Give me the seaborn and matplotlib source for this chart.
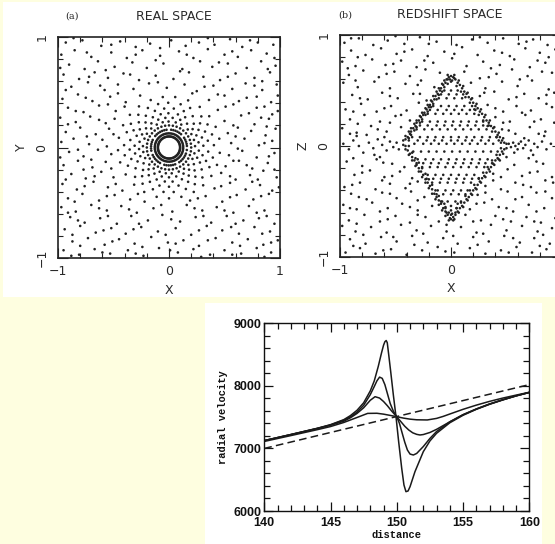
##############################################################################################

# Espacio real vs espacio redshift + curvas de velocidad radial

##############################################################################################

import numpy as np
import pandas as pd
import matplotlib

matplotlib.use("Agg")
import matplotlib.pyplot as plt
import seaborn as sns
from matplotlib.patches import Rectangle
from matplotlib.ticker import MultipleLocator

# Datos panel (a): puntos de fondo (x, y)
fondo_a = [
    (-0.93, 0.95), (-0.78, 0.97), (-0.61, 0.92), (-0.44, 0.96), (-0.30, 0.91), (-0.17, 0.94), (0.02, 0.97),
    (0.15, 0.92), (0.27, 0.95), (0.41, 0.93), (0.55, 0.98), (0.66, 0.91), (0.80, 0.95), (0.94, 0.93),
    (-0.97, 0.84), (-0.85, 0.88), (-0.70, 0.82), (-0.52, 0.86), (-0.38, 0.81), (-0.24, 0.88), (-0.08, 0.83),
    (0.09, 0.87), (0.22, 0.81), (0.35, 0.89), (0.50, 0.84), (0.62, 0.82), (0.74, 0.88), (0.88, 0.85),
    (-0.90, 0.75), (-0.76, 0.71), (-0.64, 0.78), (-0.49, 0.73), (-0.33, 0.77), (-0.20, 0.72), (-0.05, 0.76),
    (0.12, 0.71), (0.28, 0.78), (0.39, 0.73), (0.53, 0.76), (0.70, 0.72), (0.83, 0.78), (0.96, 0.74),
    (-0.95, 0.66), (-0.81, 0.62), (-0.67, 0.68), (-0.55, 0.63), (-0.41, 0.67), (-0.27, 0.61), (-0.12, 0.65),
    (0.04, 0.62), (0.18, 0.68), (0.31, 0.64), (0.46, 0.61), (0.60, 0.67), (0.77, 0.63), (0.91, 0.68),
    (-0.88, 0.55), (-0.73, 0.59), (-0.58, 0.52), (-0.46, 0.57), (-0.32, 0.53), (-0.18, 0.58), (-0.02, 0.54),
    (0.14, 0.57), (0.25, 0.51), (0.40, 0.56), (0.57, 0.53), (0.69, 0.58), (0.84, 0.52), (0.97, 0.57),
    (-0.96, 0.44), (-0.82, 0.48), (-0.69, 0.42), (-0.53, 0.46), (-0.39, 0.41), (-0.26, 0.47), (0.21, 0.49),
    (0.36, 0.43), (0.50, 0.47), (0.63, 0.42), (0.79, 0.46), (0.92, 0.41),
    (-0.91, 0.36), (-0.77, 0.32), (-0.63, 0.38), (-0.48, 0.33), (-0.40, 0.37), (0.44, 0.34), (0.58, 0.39),
    (0.72, 0.31), (0.86, 0.37), (0.98, 0.33),
    (-0.98, 0.27), (-0.84, 0.23), (-0.71, 0.28), (-0.57, 0.22), (-0.49, 0.26), (0.50, 0.24), (0.65, 0.29),
    (0.77, 0.21), (0.90, 0.26),
    (-0.93, 0.14), (-0.80, 0.18), (-0.66, 0.12), (-0.54, 0.17), (0.53, 0.13), (0.62, 0.18), (0.74, 0.15),
    (0.87, 0.11), (0.96, 0.17),
    (-0.97, 0.05), (-0.86, 0.08), (-0.72, 0.03), (-0.60, 0.07), (0.56, 0.04), (0.68, 0.08), (0.81, 0.02),
    (0.93, 0.06),
    (-0.90, -0.04), (-0.77, -0.08), (-0.64, -0.02), (-0.52, -0.06), (0.54, -0.07), (0.66, -0.03),
    (0.79, -0.09), (0.95, -0.05),
    (-0.95, -0.16), (-0.82, -0.12), (-0.69, -0.18), (-0.57, -0.13), (0.51, -0.17), (0.63, -0.12),
    (0.75, -0.19), (0.89, -0.14),
    (-0.88, -0.24), (-0.75, -0.28), (-0.61, -0.22), (-0.50, -0.27), (0.47, -0.23), (0.60, -0.29),
    (0.73, -0.25), (0.85, -0.21), (0.97, -0.27),
    (-0.96, -0.33), (-0.83, -0.38), (-0.68, -0.31), (-0.55, -0.36), (-0.42, -0.39), (0.41, -0.37),
    (0.55, -0.32), (0.69, -0.38), (0.82, -0.34), (0.93, -0.39),
    (-0.91, -0.46), (-0.78, -0.42), (-0.63, -0.48), (-0.49, -0.43), (-0.35, -0.47), (-0.22, -0.49),
    (0.19, -0.48), (0.33, -0.44), (0.48, -0.49), (0.61, -0.43), (0.76, -0.47), (0.90, -0.42),
    (-0.97, -0.54), (-0.84, -0.58), (-0.70, -0.52), (-0.56, -0.57), (-0.43, -0.53), (-0.29, -0.59),
    (-0.14, -0.55), (0.03, -0.58), (0.16, -0.52), (0.30, -0.57), (0.43, -0.54), (0.58, -0.59),
    (0.72, -0.53), (0.86, -0.57),
    (-0.89, -0.63), (-0.76, -0.68), (-0.62, -0.64), (-0.47, -0.69), (-0.34, -0.62), (-0.19, -0.66),
    (-0.06, -0.61), (0.10, -0.67), (0.24, -0.63), (0.38, -0.68), (0.52, -0.62), (0.67, -0.66),
    (0.81, -0.64), (0.95, -0.69),
    (-0.94, -0.74), (-0.80, -0.71), (-0.66, -0.77), (-0.52, -0.73), (-0.39, -0.78), (-0.25, -0.72),
    (-0.10, -0.76), (0.06, -0.73), (0.20, -0.79), (0.34, -0.71), (0.48, -0.75), (0.63, -0.78),
    (0.77, -0.72), (0.91, -0.76),
    (-0.87, -0.85), (-0.73, -0.82), (-0.58, -0.88), (-0.45, -0.83), (-0.31, -0.87), (-0.16, -0.81),
    (-0.01, -0.86), (0.13, -0.84), (0.27, -0.89), (0.42, -0.82), (0.57, -0.86), (0.71, -0.83),
    (0.85, -0.88), (0.98, -0.84),
    (-0.95, -0.93), (-0.81, -0.97), (-0.67, -0.92), (-0.53, -0.96), (-0.37, -0.93), (-0.23, -0.98),
    (-0.09, -0.91), (0.08, -0.95), (0.22, -0.92), (0.37, -0.97), (0.50, -0.93), (0.65, -0.96),
    (0.79, -0.91), (0.92, -0.95),
]
fondo_a_extra = [
    (-0.86, 0.99), (-0.52, 0.93), (-0.08, 0.90), (0.35, 0.99), (0.73, 0.97),
    (-0.74, 0.86), (-0.30, 0.84), (0.16, 0.84), (0.57, 0.87), (0.95, 0.81),
    (-0.98, 0.72), (-0.57, 0.70), (-0.12, 0.79), (0.45, 0.77), (0.89, 0.71),
    (-0.72, 0.64), (-0.35, 0.66), (0.10, 0.69), (0.53, 0.64), (0.84, 0.60),
    (-0.93, 0.52), (-0.62, 0.56), (-0.10, 0.59), (0.32, 0.55), (0.77, 0.56),
    (-0.75, 0.45), (-0.46, 0.49), (0.44, 0.48), (0.70, 0.45), (0.98, 0.47),
    (-0.84, 0.33), (-0.55, 0.39), (0.51, 0.37), (0.79, 0.36), (0.93, 0.30),
    (-0.91, 0.21), (-0.63, 0.25), (0.58, 0.20), (0.83, 0.27),
    (-0.74, 0.10), (-0.50, 0.12), (0.60, 0.10), (0.88, 0.19),
    (-0.82, -0.02), (-0.56, 0.01), (0.62, -0.01), (0.86, 0.04),
    (-0.98, -0.09), (-0.70, -0.11), (0.58, -0.12), (0.90, -0.08),
    (-0.77, -0.20), (-0.52, -0.19), (0.70, -0.16), (0.95, -0.20),
    (-0.93, -0.29), (-0.67, -0.26), (0.55, -0.26), (0.80, -0.29),
    (-0.76, -0.35), (-0.48, -0.33), (0.47, -0.35), (0.75, -0.31), (0.99, -0.36),
    (-0.85, -0.49), (-0.56, -0.44), (-0.28, -0.42), (0.26, -0.46), (0.55, -0.45), (0.83, -0.44),
    (-0.91, -0.59), (-0.63, -0.55), (-0.36, -0.56), (-0.07, -0.52), (0.23, -0.55), (0.50, -0.57), (0.79, -0.59),
    (-0.82, -0.66), (-0.55, -0.62), (-0.27, -0.69), (0.02, -0.65), (0.31, -0.62), (0.60, -0.69), (0.88, -0.62),
    (-0.87, -0.79), (-0.59, -0.75), (-0.32, -0.74), (-0.03, -0.79), (0.27, -0.75), (0.56, -0.72), (0.84, -0.78),
    (-0.80, -0.89), (-0.51, -0.85), (-0.24, -0.90), (0.06, -0.87), (0.35, -0.84), (0.64, -0.89), (0.92, -0.86),
    (-0.88, -0.98), (-0.60, -0.95), (-0.30, -0.96), (0.01, -0.93), (0.29, -0.99), (0.57, -0.97), (0.86, -0.99),
]

# Capas esfericas del panel (a): radio y angulos (grados) de cada capa
radio_anillo1 = 0.10
grados_anillo1 = [0, 5, 10, 15, 20, 25, 30, 35, 40, 45, 50, 55, 60, 65, 70, 75, 80, 85, 90, 95, 100, 105,
                  110, 115, 120, 125, 130, 135, 140, 145, 150, 155, 160, 165, 170, 175, 180, 185, 190, 195,
                  200, 205, 210, 215, 220, 225, 230, 235, 240, 245, 250, 255, 260, 265, 270, 275, 280, 285,
                  290, 295, 300, 305, 310, 315, 320, 325, 330, 335, 340, 345, 350, 355]
radio_anillo2 = 0.128
grados_anillo2 = [2, 8, 14, 20, 26, 32, 38, 44, 50, 56, 62, 68, 74, 80, 86, 92, 98, 104, 110, 116, 122, 128,
                  134, 140, 146, 152, 158, 164, 170, 176, 182, 188, 194, 200, 206, 212, 218, 224, 230, 236,
                  242, 248, 254, 260, 266, 272, 278, 284, 290, 296, 302, 308, 314, 320, 326, 332, 338, 344,
                  350, 356]
radio_anillo3 = 0.162
grados_anillo3 = [5, 12, 19, 26, 33, 48, 55, 62, 69, 76, 83, 98, 105, 112, 119, 126, 133, 140, 155, 162,
                  169, 176, 183, 190, 205, 212, 219, 226, 233, 240, 255, 262, 269, 276, 283, 290, 305, 312,
                  319, 326, 333, 340, 352]
radio_anillo4 = 0.20
grados_anillo4 = [0, 10, 20, 30, 40, 50, 60, 70, 80, 90, 100, 110, 120, 130, 140, 150, 160, 170, 180, 190,
                  200, 210, 220, 230, 240, 250, 260, 270, 280, 290, 300, 310, 320, 330, 340, 350]
radios_externos_a = [0.235, 0.31, 0.405]
radios_externos_b = [0.27, 0.355, 0.46]
grados_radiales_a = [3, 17, 31, 44, 62, 75, 91, 104, 118, 133, 148, 160, 177, 190, 204, 221, 234, 249, 263,
                     276, 292, 305, 318, 334, 347]
grados_radiales_b = [10, 24, 38, 53, 68, 83, 97, 111, 126, 140, 154, 169, 183, 197, 212, 227, 241, 256, 270,
                     284, 299, 312, 326, 340, 354]

# Datos panel (b): fondo, banda horizontal, borde del rombo e interior
fondo_b = [
    (-0.96, 0.93), (-0.83, 0.97), (-0.70, 0.91), (-0.57, 0.95), (-0.42, 0.92), (-0.28, 0.98), (-0.13, 0.94),
    (0.05, 0.91), (0.19, 0.96), (0.33, 0.93), (0.47, 0.97), (0.61, 0.92), (0.74, 0.96), (0.87, 0.91),
    (-0.90, 0.86), (-0.77, 0.82), (-0.63, 0.88), (-0.49, 0.83), (-0.35, 0.87), (-0.21, 0.81), (-0.06, 0.85),
    (0.10, 0.89), (0.24, 0.82), (0.39, 0.86), (0.53, 0.81), (0.67, 0.88), (0.80, 0.84), (0.94, 0.87),
    (-0.98, 0.76), (-0.86, 0.72), (-0.71, 0.78), (-0.59, 0.73), (-0.45, 0.77), (-0.31, 0.71), (-0.16, 0.75),
    (0.01, 0.79), (0.14, 0.72), (0.29, 0.76), (0.44, 0.73), (0.57, 0.78), (0.71, 0.71), (0.85, 0.75),
    (0.97, 0.79),
    (-0.92, 0.64), (-0.79, 0.68), (-0.65, 0.62), (-0.51, 0.67), (-0.37, 0.63), (-0.23, 0.69), (-0.10, 0.66),
    (0.12, 0.67), (0.26, 0.61), (0.41, 0.65), (0.55, 0.69), (0.69, 0.63), (0.82, 0.67), (0.95, 0.62),
    (-0.97, 0.57), (-0.84, 0.53), (-0.69, 0.58), (-0.55, 0.52), (-0.41, 0.56), (-0.27, 0.59), (-0.15, 0.53),
    (0.18, 0.57), (0.31, 0.52), (0.46, 0.58), (0.60, 0.54), (0.73, 0.59), (0.88, 0.51),
    (-0.89, 0.46), (-0.75, 0.42), (-0.62, 0.48), (-0.48, 0.43), (-0.34, 0.47), (-0.22, 0.41), (0.26, 0.45),
    (0.39, 0.49), (0.52, 0.42), (0.66, 0.47), (0.79, 0.43), (0.93, 0.48),
    (-0.95, 0.33), (-0.81, 0.38), (-0.67, 0.31), (-0.54, 0.36), (-0.40, 0.32), (-0.29, 0.39), (0.33, 0.37),
    (0.47, 0.31), (0.59, 0.36), (0.72, 0.32), (0.86, 0.38), (0.97, 0.34),
    (-0.91, 0.24), (-0.78, 0.28), (-0.64, 0.22), (-0.50, 0.27), (-0.37, 0.23), (0.40, 0.26), (0.53, 0.22),
    (0.67, 0.28), (0.81, 0.24), (0.93, 0.21),
    (-0.98, 0.16), (-0.85, 0.12), (-0.72, 0.18), (-0.58, 0.13), (-0.45, 0.17), (0.46, 0.15), (0.58, 0.11),
    (0.71, 0.17), (0.85, 0.13), (0.96, 0.18),
    (-0.94, -0.14), (-0.80, -0.18), (-0.67, -0.12), (-0.53, -0.16), (-0.42, -0.19), (0.44, -0.13),
    (0.57, -0.17), (0.70, -0.11), (0.83, -0.16), (0.97, -0.13),
    (-0.87, -0.26), (-0.73, -0.22), (-0.60, -0.28), (-0.46, -0.23), (-0.35, -0.29), (0.38, -0.25),
    (0.51, -0.21), (0.64, -0.27), (0.78, -0.23), (0.91, -0.28),
    (-0.96, -0.37), (-0.82, -0.33), (-0.68, -0.39), (-0.55, -0.34), (-0.41, -0.38), (-0.30, -0.32),
    (0.31, -0.36), (0.45, -0.39), (0.58, -0.33), (0.72, -0.37), (0.85, -0.31), (0.98, -0.36),
    (-0.90, -0.43), (-0.76, -0.48), (-0.62, -0.42), (-0.49, -0.47), (-0.36, -0.41), (-0.24, -0.46),
    (0.24, -0.44), (0.37, -0.48), (0.51, -0.41), (0.64, -0.46), (0.77, -0.42), (0.91, -0.47),
    (-0.97, -0.53), (-0.85, -0.57), (-0.71, -0.51), (-0.57, -0.56), (-0.44, -0.52), (-0.30, -0.58),
    (-0.17, -0.54), (0.17, -0.57), (0.30, -0.51), (0.43, -0.55), (0.56, -0.59), (0.70, -0.53),
    (0.84, -0.56), (0.96, -0.52),
    (-0.92, -0.67), (-0.78, -0.62), (-0.64, -0.68), (-0.50, -0.63), (-0.37, -0.69), (-0.23, -0.64),
    (-0.11, -0.68), (0.13, -0.62), (0.27, -0.67), (0.40, -0.63), (0.54, -0.68), (0.68, -0.64),
    (0.81, -0.69), (0.94, -0.65),
    (-0.98, -0.72), (-0.86, -0.77), (-0.72, -0.73), (-0.58, -0.78), (-0.45, -0.71), (-0.31, -0.76),
    (-0.18, -0.72), (-0.04, -0.77), (0.09, -0.73), (0.23, -0.78), (0.36, -0.71), (0.50, -0.76),
    (0.64, -0.72), (0.78, -0.77), (0.91, -0.74),
    (-0.91, -0.84), (-0.77, -0.88), (-0.63, -0.82), (-0.49, -0.86), (-0.35, -0.81), (-0.21, -0.87),
    (-0.07, -0.83), (0.06, -0.88), (0.20, -0.82), (0.34, -0.86), (0.48, -0.81), (0.62, -0.87),
    (0.75, -0.83), (0.89, -0.88),
    (-0.95, -0.96), (-0.82, -0.92), (-0.68, -0.97), (-0.54, -0.93), (-0.40, -0.98), (-0.26, -0.94),
    (-0.12, -0.91), (0.03, -0.96), (0.17, -0.92), (0.31, -0.97), (0.45, -0.94), (0.59, -0.91),
    (0.73, -0.96), (0.86, -0.93),
]
fondo_b_extra = [
    (-0.90, 0.97), (-0.50, 0.99), (-0.20, 0.92), (0.26, 0.98), (0.68, 0.94),
    (-0.84, 0.80), (-0.42, 0.85), (0.03, 0.83), (0.46, 0.84), (0.88, 0.80),
    (-0.93, 0.70), (-0.52, 0.74), (-0.24, 0.77), (0.36, 0.70), (0.78, 0.77),
    (-0.86, 0.59), (-0.58, 0.65), (-0.30, 0.55), (0.34, 0.62), (0.62, 0.60), (0.91, 0.66),
    (-0.82, 0.43), (-0.55, 0.45), (-0.28, 0.47), (0.30, 0.48), (0.59, 0.44), (0.86, 0.46),
    (-0.88, 0.31), (-0.60, 0.34), (-0.45, 0.28), (0.40, 0.34), (0.64, 0.30), (0.91, 0.35),
    (-0.84, 0.20), (-0.55, 0.21), (0.47, 0.21), (0.75, 0.22),
    (-0.91, 0.11), (-0.66, 0.15), (0.52, 0.14), (0.79, 0.11),
    (-0.88, -0.11), (-0.61, -0.15), (0.50, -0.10), (0.77, -0.14),
    (-0.80, -0.24), (-0.53, -0.27), (0.45, -0.28), (0.71, -0.24), (0.97, -0.25),
    (-0.89, -0.35), (-0.62, -0.31), (-0.37, -0.34), (0.38, -0.31), (0.65, -0.35), (0.92, -0.33),
    (-0.83, -0.46), (-0.55, -0.43), (-0.30, -0.49), (0.31, -0.42), (0.58, -0.48), (0.85, -0.41),
    (-0.91, -0.56), (-0.64, -0.59), (-0.37, -0.55), (0.23, -0.52), (0.50, -0.56), (0.77, -0.59),
    (-0.85, -0.70), (-0.57, -0.66), (-0.30, -0.62), (-0.04, -0.71), (0.20, -0.68), (0.47, -0.66), (0.75, -0.68),
    (-0.79, -0.80), (-0.52, -0.82), (-0.25, -0.79), (0.02, -0.81), (0.29, -0.79), (0.56, -0.83), (0.83, -0.80),
    (-0.88, -0.90), (-0.61, -0.94), (-0.33, -0.89), (-0.05, -0.95), (0.24, -0.89), (0.52, -0.96), (0.80, -0.90),
]

banda_b = [
    (-0.97, 0.02), (-0.92, -0.03), (-0.88, 0.05), (-0.83, 0.00), (-0.79, -0.06), (-0.74, 0.03), (-0.70, -0.02),
    (-0.66, 0.06), (-0.62, 0.01), (-0.58, -0.04), (-0.55, 0.04), (-0.52, -0.01), (-0.49, 0.03), (-0.47, -0.03),
    (-0.60, 0.08), (-0.69, -0.08), (-0.85, 0.09), (-0.76, 0.10), (-0.64, -0.10),
    (0.52, 0.02), (0.54, -0.01), (0.56, 0.03), (0.58, 0.00), (0.60, -0.03), (0.61, 0.02), (0.63, 0.04),
    (0.65, -0.02), (0.67, 0.01), (0.70, 0.05), (0.72, -0.04), (0.75, 0.02), (0.78, -0.01), (0.82, 0.04),
    (0.86, -0.03), (0.90, 0.02), (0.95, 0.06), (0.98, -0.02), (0.57, -0.06), (0.66, 0.07), (0.74, -0.08),
    (0.84, 0.09),
]

borde_b = [
    # arriba-izquierda
    (-0.02, 0.62), (-0.04, 0.60), (-0.05, 0.57), (-0.07, 0.55), (-0.09, 0.52), (-0.10, 0.50), (-0.12, 0.47),
    (-0.14, 0.45), (-0.15, 0.42), (-0.17, 0.40), (-0.19, 0.37), (-0.20, 0.35), (-0.22, 0.33), (-0.24, 0.30),
    (-0.25, 0.28), (-0.27, 0.26), (-0.29, 0.23), (-0.31, 0.21), (-0.32, 0.18), (-0.34, 0.16), (-0.36, 0.13),
    (-0.37, 0.11), (-0.39, 0.08), (-0.41, 0.06),
    (-0.01, 0.60), (-0.03, 0.56), (-0.06, 0.53), (-0.08, 0.49), (-0.11, 0.46), (-0.13, 0.42), (-0.16, 0.38),
    (-0.18, 0.35), (-0.21, 0.31), (-0.23, 0.28), (-0.26, 0.24), (-0.28, 0.21), (-0.31, 0.17), (-0.33, 0.14),
    (-0.36, 0.10), (-0.38, 0.07),
    (-0.03, 0.64), (-0.06, 0.59), (-0.08, 0.56), (-0.11, 0.52), (-0.13, 0.49), (-0.16, 0.45), (-0.18, 0.41),
    (-0.21, 0.37), (-0.23, 0.34), (-0.26, 0.30), (-0.28, 0.27), (-0.31, 0.23), (-0.33, 0.20), (-0.36, 0.16),
    (-0.38, 0.13), (-0.41, 0.09), (-0.43, 0.05),
    # abajo-izquierda
    (-0.41, 0.00), (-0.39, -0.04), (-0.37, -0.07), (-0.35, -0.10), (-0.33, -0.13), (-0.31, -0.17),
    (-0.29, -0.20), (-0.27, -0.23), (-0.25, -0.26), (-0.23, -0.30), (-0.21, -0.33), (-0.19, -0.36),
    (-0.17, -0.39), (-0.15, -0.43), (-0.13, -0.46), (-0.11, -0.49), (-0.09, -0.52), (-0.07, -0.56),
    (-0.05, -0.59), (-0.03, -0.62), (-0.01, -0.65),
    (-0.38, 0.00), (-0.35, -0.06), (-0.32, -0.11), (-0.29, -0.15), (-0.26, -0.20), (-0.23, -0.25),
    (-0.20, -0.30), (-0.17, -0.35), (-0.14, -0.40), (-0.11, -0.45), (-0.08, -0.50), (-0.05, -0.55),
    (-0.02, -0.60),
    (-0.43, 0.01), (-0.41, -0.03), (-0.38, -0.08), (-0.35, -0.13), (-0.32, -0.18), (-0.29, -0.23),
    (-0.26, -0.28), (-0.23, -0.33), (-0.20, -0.38), (-0.17, -0.43), (-0.14, -0.48), (-0.11, -0.53),
    (-0.08, -0.58), (-0.05, -0.63), (-0.02, -0.67),
    # arriba-derecha
    (0.02, 0.62), (0.04, 0.60), (0.06, 0.57), (0.08, 0.55), (0.10, 0.52), (0.12, 0.49), (0.14, 0.47),
    (0.16, 0.44), (0.18, 0.42), (0.20, 0.39), (0.22, 0.36), (0.24, 0.34), (0.26, 0.31), (0.28, 0.29),
    (0.30, 0.26), (0.32, 0.23), (0.34, 0.21), (0.36, 0.18), (0.38, 0.16), (0.40, 0.13), (0.42, 0.10),
    (0.44, 0.08), (0.46, 0.05), (0.48, 0.03),
    (0.01, 0.59), (0.05, 0.54), (0.09, 0.49), (0.13, 0.44), (0.17, 0.39), (0.21, 0.33), (0.25, 0.28),
    (0.29, 0.23), (0.33, 0.18), (0.37, 0.13), (0.41, 0.08), (0.45, 0.03),
    (0.03, 0.64), (0.07, 0.59), (0.11, 0.54), (0.15, 0.48), (0.19, 0.43), (0.23, 0.38), (0.27, 0.33),
    (0.31, 0.28), (0.35, 0.23), (0.39, 0.17), (0.43, 0.12), (0.47, 0.07), (0.50, 0.02),
    # abajo-derecha
    (0.48, -0.03), (0.46, -0.05), (0.44, -0.08), (0.42, -0.11), (0.40, -0.13), (0.38, -0.16), (0.36, -0.19),
    (0.34, -0.21), (0.32, -0.24), (0.30, -0.27), (0.28, -0.29), (0.26, -0.32), (0.24, -0.35), (0.22, -0.38),
    (0.20, -0.40), (0.18, -0.43), (0.16, -0.46), (0.14, -0.48), (0.12, -0.51), (0.10, -0.54), (0.08, -0.56),
    (0.06, -0.59), (0.04, -0.62), (0.02, -0.64),
    (0.45, -0.02), (0.41, -0.08), (0.37, -0.13), (0.33, -0.19), (0.29, -0.24), (0.25, -0.29), (0.21, -0.35),
    (0.17, -0.40), (0.13, -0.45), (0.09, -0.51), (0.05, -0.56), (0.01, -0.61),
    (0.50, -0.02), (0.47, -0.07), (0.43, -0.12), (0.39, -0.17), (0.35, -0.23), (0.31, -0.28), (0.27, -0.33),
    (0.23, -0.39), (0.19, -0.44), (0.15, -0.49), (0.11, -0.55), (0.07, -0.60), (0.03, -0.66),
    # vertices (arcos en U)
    (-0.04, -0.60), (0.00, -0.62), (0.04, -0.60), (-0.05, -0.56), (0.00, -0.58), (0.05, -0.56),
    (-0.06, -0.52), (0.00, -0.54), (0.06, -0.52), (0.00, -0.66), (0.02, -0.67),
    (-0.03, 0.60), (0.00, 0.63), (0.03, 0.61), (0.00, 0.58),
]

interior_z = [0.50, 0.465, 0.43, 0.36, 0.325, 0.29, 0.22, 0.185, 0.15, 0.08, 0.05, 0.02,
              -0.05, -0.12, -0.155, -0.19, -0.26, -0.295, -0.33, -0.40, -0.435, -0.50]
interior_x = [
    [-0.06, 0.00, 0.06],
    [-0.09, -0.02, 0.05, 0.11],
    [-0.11, -0.04, 0.03, 0.10],
    [-0.16, -0.09, -0.02, 0.05, 0.12, 0.19],
    [-0.19, -0.12, -0.04, 0.03, 0.10, 0.17, 0.22],
    [-0.21, -0.14, -0.07, 0.00, 0.07, 0.14, 0.21],
    [-0.26, -0.19, -0.12, -0.05, 0.02, 0.09, 0.16, 0.23, 0.29],
    [-0.28, -0.21, -0.13, -0.06, 0.01, 0.08, 0.15, 0.22, 0.29, 0.34],
    [-0.31, -0.24, -0.17, -0.10, -0.03, 0.04, 0.11, 0.18, 0.25, 0.32],
    [-0.35, -0.28, -0.21, -0.14, -0.07, 0.00, 0.07, 0.14, 0.21, 0.28, 0.35, 0.41],
    [-0.38, -0.30, -0.22, -0.15, -0.08, 0.00, 0.06, 0.13, 0.19, 0.27, 0.34, 0.43],
    [-0.33, -0.25, -0.18, -0.11, -0.04, 0.03, 0.10, 0.17, 0.24, 0.31, 0.38],
    [-0.34, -0.27, -0.20, -0.13, -0.06, 0.01, 0.08, 0.15, 0.22, 0.29, 0.36, 0.42],
    [-0.30, -0.23, -0.16, -0.09, -0.02, 0.05, 0.12, 0.19, 0.26, 0.33],
    [-0.31, -0.25, -0.18, -0.11, -0.03, 0.04, 0.11, 0.18, 0.25, 0.31, 0.37],
    [-0.26, -0.19, -0.12, -0.05, 0.02, 0.09, 0.16, 0.23, 0.30],
    [-0.21, -0.14, -0.07, 0.00, 0.07, 0.14, 0.21],
    [-0.22, -0.16, -0.09, -0.02, 0.05, 0.12, 0.19, 0.25],
    [-0.17, -0.10, -0.03, 0.04, 0.11, 0.18],
    [-0.12, -0.05, 0.02, 0.09, 0.15],
    [-0.13, -0.07, 0.00, 0.07, 0.13],
    [-0.09, -0.03, 0.04, 0.09],
]

# Curvas de velocidad radial (distancia, velocidad)
dist_1 = [140, 142, 144, 145, 146, 146.5, 147, 147.5, 148, 148.3, 148.6, 148.85, 149.0, 149.1, 149.2, 149.28,
          149.4, 149.54, 149.74, 149.94, 150.14, 150.37, 150.54, 150.69, 150.85, 151.0, 151.37, 152.0, 152.5,
          153.0, 154.0, 155.0, 156.0, 157.0, 158.0, 159.0, 160.0]
vel_1 = [7125, 7222, 7322, 7380, 7460, 7525, 7610, 7730, 7920, 8080, 8310, 8530, 8650, 8705, 8725, 8690,
         8480, 8227, 7854, 7507, 7108, 6683, 6416, 6309, 6320, 6389, 6628, 6948, 7120, 7242, 7410, 7530,
         7625, 7705, 7775, 7840, 7895]
dist_2 = [140, 142, 144, 145, 146, 146.5, 147, 147.5, 148, 148.3, 148.5, 148.7, 148.9, 149.1, 149.3, 149.5,
          149.75, 150.0, 150.2, 150.4, 150.6, 150.8, 151.0, 151.25, 151.5, 152.0, 152.5, 153.0, 154.0, 155.0,
          156.0, 157.0, 158.0, 159.0, 160.0]
vel_2 = [7125, 7222, 7320, 7376, 7452, 7505, 7580, 7690, 7860, 7990, 8080, 8140, 8120, 8020, 7870, 7720,
         7590, 7505, 7400, 7250, 7100, 6975, 6910, 6895, 6920, 7030, 7160, 7270, 7425, 7540, 7630, 7710,
         7778, 7840, 7895]
dist_3 = [140, 142, 144, 145, 146, 146.5, 147, 147.5, 148, 148.36, 148.7, 149.0, 149.3, 149.6, 150.0, 150.3,
          150.6, 150.9, 151.2, 151.5, 151.75, 152.0, 152.5, 153.0, 154.0, 155.0, 156.0, 157.0, 158.0, 159.0,
          160.0]
vel_3 = [7125, 7220, 7318, 7370, 7435, 7490, 7560, 7650, 7770, 7827, 7805, 7750, 7680, 7600, 7505, 7430,
         7355, 7295, 7250, 7225, 7215, 7222, 7255, 7305, 7425, 7538, 7630, 7710, 7778, 7840, 7895]
dist_4 = [140, 142, 144, 145, 146, 147, 147.8, 148.5, 149.0, 149.5, 150.0, 150.5, 151.0, 151.5, 152.3, 153.0,
          153.5, 154.0, 155.0, 156.0, 157.0, 158.0, 159.0, 160.0]
vel_4 = [7112, 7205, 7300, 7350, 7415, 7495, 7560, 7562, 7548, 7528, 7507, 7485, 7468, 7458, 7455, 7480,
         7512, 7550, 7625, 7692, 7752, 7805, 7852, 7898]
# Flujo de Hubble (linea discontinua)
dist_hubble = [140, 160]
vel_hubble = [7000, 8020]

##############################################################################################

# Construccion de tablas
# -----------------------------------------------------------


def capa(radio, grados):
    ang = np.deg2rad(grados)
    return list(zip(radio * np.cos(ang), radio * np.sin(ang)))


puntos_a = list(fondo_a) + list(fondo_a_extra)
puntos_a += capa(radio_anillo1, grados_anillo1)
puntos_a += capa(radio_anillo2, grados_anillo2)
puntos_a += capa(radio_anillo3, grados_anillo3)
puntos_a += capa(radio_anillo4, grados_anillo4)
for r in radios_externos_a:
    puntos_a += capa(r, grados_radiales_a)
for r in radios_externos_b:
    puntos_a += capa(r, grados_radiales_b)
df_a = pd.DataFrame(puntos_a, columns=["x", "y"])

puntos_b = list(fondo_b) + list(fondo_b_extra) + list(banda_b) + list(borde_b)
for z, fila in zip(interior_z, interior_x):
    puntos_b += [(x, z) for x in fila]
df_b = pd.DataFrame(puntos_b, columns=["x", "z"])

##############################################################################################

# Figura
# -----------------------------------------------------------

sns.set_style("ticks")
plt.rcParams["font.family"] = ["DejaVu Sans"]

fig = plt.figure(figsize=(5.55, 5.44), dpi=100)
fig.patch.set_facecolor("#fefee0")
# Zonas blancas de fondo
fig.add_artist(Rectangle((3 / 555, 1 - 297 / 544), 560 / 555, 295 / 544, transform=fig.transFigure,
                         facecolor="white", edgecolor="none", zorder=-5))
fig.add_artist(Rectangle((205 / 555, 0), 337 / 555, 241 / 544, transform=fig.transFigure,
                         facecolor="white", edgecolor="none", zorder=-5))

color_txt = "#2a2a2a"
color_pt = "#222222"


def estilo_panel(ax, ylab, xlabels):
    ax.set_xlim(-1, 1)
    ax.set_ylim(-1, 1)
    ax.set_xticks([-1, 0, 1], labels=xlabels)
    ax.set_yticks([-1, 0, 1], labels=["\u22121", "0", "1"])
    plt.setp(ax.get_yticklabels(), rotation=90, va="center")
    ax.xaxis.set_minor_locator(MultipleLocator(0.2))
    ax.yaxis.set_minor_locator(MultipleLocator(0.2))
    ax.tick_params(which="both", direction="in", top=True, right=True, color="#222", width=0.8,
                   labelsize=9, labelcolor=color_txt)
    ax.tick_params(which="major", length=7)
    ax.tick_params(which="minor", length=3.5)
    ax.tick_params(axis="x", pad=5)
    ax.tick_params(axis="y", pad=7)
    ax.set_xlabel("X", fontsize=9, color=color_txt, labelpad=4)
    ax.set_ylabel(ylab, fontsize=9, color=color_txt, labelpad=5.5)
    for s in ax.spines.values():
        s.set_linewidth(1.2)
        s.set_color("#222")


# Panel (a): espacio real
ax_a = fig.add_axes([58 / 555, 1 - 258 / 544, 222 / 555, 221 / 544])
sns.scatterplot(data=df_a, x="x", y="y", s=3.5, color=color_pt, edgecolor="none", linewidth=0, ax=ax_a,
                legend=False)
estilo_panel(ax_a, "Y", ["\u22121", "0", "1"])

# Panel (b): espacio redshift (el borde derecho queda fuera de la imagen)
ax_b = fig.add_axes([340 / 555, 1 - 257 / 544, 222 / 555, 222 / 544])
sns.scatterplot(data=df_b, x="x", y="z", s=3.5, color=color_pt, edgecolor="none", linewidth=0, ax=ax_b,
                legend=False)
estilo_panel(ax_b, "Z", ["\u22121", "0", ""])

fig.text(72 / 555, 1 - 16 / 544, "(a)", fontsize=7, family="DejaVu Serif", color=color_txt,
         ha="center", va="center")
fig.text(174 / 555, 1 - 16 / 544, "REAL SPACE", fontsize=9, color=color_txt, ha="center", va="center")
fig.text(345 / 555, 1 - 15 / 544, "(b)", fontsize=7, family="DejaVu Serif", color=color_txt,
         ha="center", va="center")
fig.text(450 / 555, 1 - 15 / 544, "REDSHIFT SPACE", fontsize=9, color=color_txt, ha="center", va="center")

# Panel inferior: velocidad radial vs distancia
ax_c = fig.add_axes([264.3 / 555, 1 - 511 / 544, 265 / 555, 187.7 / 544])
for d, v in [(dist_1, vel_1), (dist_2, vel_2), (dist_3, vel_3), (dist_4, vel_4)]:
    sns.lineplot(x=d, y=v, sort=False, estimator=None, color="#1a1a1a", linewidth=1.1, ax=ax_c)
sns.lineplot(x=dist_hubble, y=vel_hubble, sort=False, estimator=None, color="#1a1a1a", linewidth=1.1,
             linestyle=(0, (5, 2.8)), ax=ax_c)
ax_c.set_xlim(140, 160)
ax_c.set_ylim(6000, 9000)
ax_c.set_xticks([140, 145, 150, 155, 160])
ax_c.set_yticks([6000, 7000, 8000, 9000])
ax_c.xaxis.set_minor_locator(MultipleLocator(1))
ax_c.yaxis.set_minor_locator(MultipleLocator(200))
ax_c.tick_params(which="both", direction="in", top=True, right=True, color="#111", width=0.9)
ax_c.tick_params(which="major", length=6.5)
ax_c.tick_params(which="minor", length=4)
ax_c.tick_params(axis="x", pad=4)
ax_c.tick_params(axis="y", pad=2)
for lab in ax_c.get_xticklabels() + ax_c.get_yticklabels():
    lab.set_fontfamily("Liberation Sans")
    lab.set_fontweight("bold")
    lab.set_fontsize(9)
    lab.set_color("#111")
ax_c.set_xlabel("distance", fontsize=7.5, fontfamily="Liberation Mono", fontweight="bold", color="#111",
                labelpad=1)
ax_c.set_ylabel("radial velocity", fontsize=7.5, fontfamily="Liberation Mono", fontweight="bold",
                color="#111", labelpad=4)
for s in ax_c.spines.values():
    s.set_linewidth(1.0)
    s.set_color("#111")

plt.savefig("out.png", dpi=100)
